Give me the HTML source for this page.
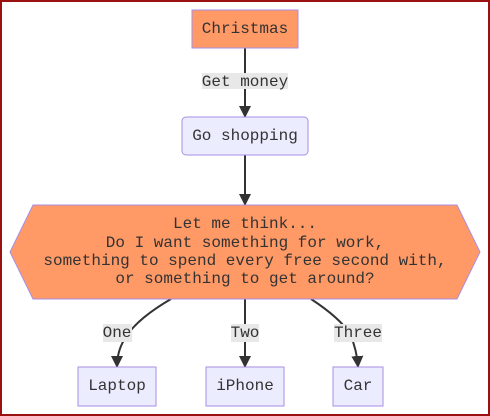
<!DOCTYPE html>
<html><head><style>
html,body{margin:0;padding:0;background:#fff;}
svg{display:block;}
text{font-family:"Liberation Mono",monospace;font-size:16px;fill:#333;}
</style></head><body>
<svg width="490" height="416" viewBox="0 0 490 416">
<defs><marker id="a" markerWidth="12" markerHeight="12" refX="11" refY="6" orient="auto" markerUnits="userSpaceOnUse"><path d="M0,0 L12,6 L0,12 z" fill="#333"/></marker></defs>
<rect x="1" y="1" width="488" height="414" fill="#fff" stroke="#9b1010" stroke-width="2"/>
<g stroke="#333" stroke-width="2" fill="none">
<path d="M245,48 V117" marker-end="url(#a)"/>
<path d="M245,155 V205" marker-end="url(#a)"/>
<path d="M171,299 Q135,320 124,340 Q117,352 117,367" marker-end="url(#a)"/>
<path d="M245,299 V367" marker-end="url(#a)"/>
<path d="M311,299 Q340,318 350,334 Q357,350 358,367" marker-end="url(#a)"/>
</g>
<rect x="192" y="10" width="106" height="38" fill="#ff9966" stroke="#a98ee6" stroke-width="1"/>
<text x="245" y="33" text-anchor="middle">Christmas</text>
<rect x="202" y="73" width="86" height="16" fill="#e8e8e8"/>
<text x="245" y="86" text-anchor="middle">Get money</text>
<rect x="182" y="117" width="126" height="38" rx="4" fill="#ececff" stroke="#a98ee6" stroke-width="1"/>
<text x="245" y="140" text-anchor="middle">Go shopping</text>
<polygon points="10,252 33,205 457,205 480,252 457,299 33,299" fill="#ff9966" stroke="#a98ee6" stroke-width="1"/>
<text x="245" y="228" text-anchor="middle">Let me think...</text>
<text x="245" y="247" text-anchor="middle">Do I want something for work,</text>
<text x="245" y="265" text-anchor="middle">something to spend every free second with,</text>
<text x="245" y="283" text-anchor="middle">or something to get around?</text>
<rect x="103" y="324" width="29" height="18" fill="#e8e8e8"/>
<text x="117" y="337" text-anchor="middle">One</text>
<rect x="231" y="324" width="28" height="18" fill="#e8e8e8"/>
<text x="245" y="337" text-anchor="middle">Two</text>
<rect x="334" y="324" width="48" height="18" fill="#e8e8e8"/>
<text x="358" y="337" text-anchor="middle">Three</text>
<rect x="78" y="367" width="78" height="39" fill="#ececff" stroke="#a98ee6" stroke-width="1"/>
<text x="117" y="390" text-anchor="middle">Laptop</text>
<rect x="206" y="367" width="78" height="39" fill="#ececff" stroke="#a98ee6" stroke-width="1"/>
<text x="245" y="390" text-anchor="middle">iPhone</text>
<rect x="333" y="367" width="50" height="39" fill="#ececff" stroke="#a98ee6" stroke-width="1"/>
<text x="358" y="390" text-anchor="middle">Car</text>
</svg>
</body></html>
